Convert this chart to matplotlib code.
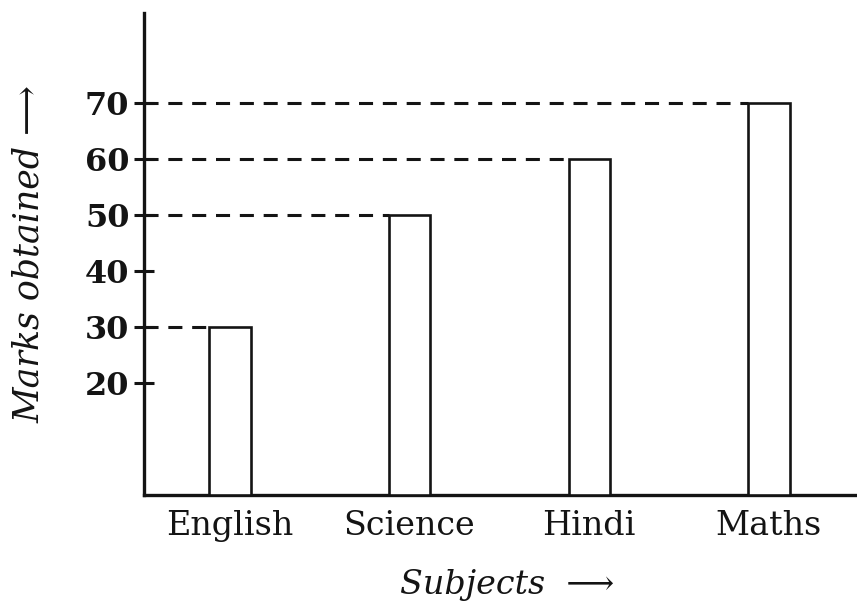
import matplotlib.pyplot as plt

subjects = ["English", "Science", "Hindi", "Maths"]
marks = [30, 50, 60, 70]
yticks = [20, 30, 40, 50, 60, 70]

ink = "#141414"
serif = ["DejaVu Serif", "DejaVu Sans"]

fig = plt.figure(figsize=(8.57, 6.08), dpi=100)
ax = fig.add_axes([0.168, 0.186, 0.832, 0.793])

x = list(range(len(subjects)))
width = 0.23
ax.bar(x, marks, width=width, color="white", edgecolor=ink, linewidth=1.9, zorder=3)

# dashed guide from the y-axis to the left edge of each bar
xmin, xmax = -0.478, 3.49
for xi, m in zip(x, marks):
    ax.hlines(m, xmin, xi - width / 2, colors=ink, linewidth=2.2,
              linestyles=(0, (4.6, 3.2)), zorder=2)

ax.set_xlim(xmin, xmax)
ax.set_ylim(0, 86.2)

ax.set_xticks(x)
ax.set_xticklabels(subjects, fontsize=24, family=serif, color=ink)
ax.tick_params(axis="x", length=0, pad=11)

ax.set_yticks(yticks)
ax.set_yticklabels([str(v) for v in yticks], fontsize=23, family=serif, color=ink,
                   fontweight="bold")
ax.tick_params(axis="y", direction="inout", length=15, width=2.2, color=ink, pad=3)

for side in ("top", "right"):
    ax.spines[side].set_visible(False)
for side in ("left", "bottom"):
    ax.spines[side].set_linewidth(2.4)
    ax.spines[side].set_color(ink)

ax.set_ylabel("Marks obtained \u27f6", fontsize=25, family=serif,
              style="italic", color=ink)
ax.yaxis.set_label_coords(-0.1615, 0.5)
ax.yaxis.label.set_va("center")

ax.set_xlabel("Subjects  \u27f6", fontsize=24, family=serif,
              style="italic", color=ink)
ax.xaxis.set_label_coords(0.51, -0.187)
ax.xaxis.label.set_va("center")

fig.savefig("out.png", dpi=100)
